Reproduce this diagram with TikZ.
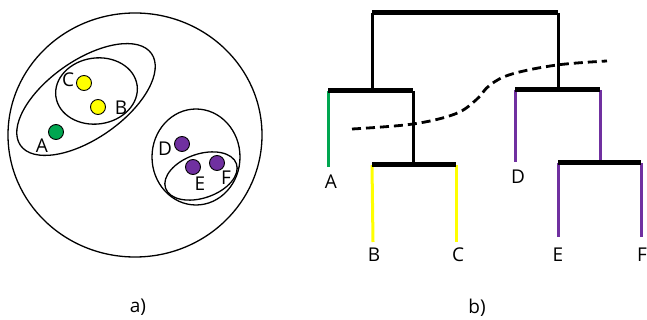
\documentclass[tikz,border=0pt]{standalone}
\usepackage{fontspec}
\setmainfont{Open Sans}
\begin{document}
\begin{tikzpicture}[x=1pt,y=-1pt,
  lbl/.style={font=\fontsize{19}{22}\selectfont, inner sep=0pt},
  ring/.style={draw=black, line width=1.3pt},
  dot/.style={circle, draw=black, line width=0.9pt, minimum size=15pt, inner sep=0pt},
  bar/.style={line width=5pt},
  stem/.style={line width=3pt}]
\useasboundingbox (0,0) rectangle (647,320);
\definecolor{dgreen}{RGB}{0,166,80}
\definecolor{dyellow}{RGB}{255,255,0}
\definecolor{dpurple}{RGB}{112,48,160}
% ---------- panel a ----------
\draw[ring] (135,135) ellipse [x radius=127pt, y radius=122pt];
\draw[ring, rotate around={35:(86,99.5)}] (86,99.5) ellipse [x radius=80pt, y radius=39pt];
\draw[ring, rotate around={8:(96.5,91)}] (96.5,91) ellipse [x radius=41pt, y radius=33pt];
\draw[ring] (196,157) ellipse [x radius=44pt, y radius=48pt];
\draw[ring, rotate around={19:(201,176)}] (201,176) ellipse [x radius=37.5pt, y radius=22pt];
\node[dot, fill=dyellow] (dC) at (84,83) {};
\node[dot, fill=dyellow] (dB) at (98,107) {};
\node[dot, fill=dgreen] (dA) at (56,132) {};
\node[dot, fill=dpurple] (dD) at (182,144) {};
\node[dot, fill=dpurple] (dE) at (193,167) {};
\node[dot, fill=dpurple] (dF) at (217,163) {};
\node[lbl] (lC) at (68,80) {C};
\node[lbl] (lB) at (121,108) {B};
\node[lbl] (lA) at (42,146) {A};
\node[lbl] (lD) at (165,149) {D};
\node[lbl] (lE) at (200,184) {E};
\node[lbl] (lF) at (226,178) {F};
\node[lbl] (la) at (138,307) {a)};
% ---------- panel b ----------
\coordinate (t1) at (372,13);  \coordinate (t2) at (558,13);
\coordinate (l1) at (328,91);  \coordinate (l2) at (413,91);
\coordinate (lm) at (372,91);
\coordinate (bc1) at (372,165); \coordinate (bc2) at (456,165);
\coordinate (bcm) at (413,165);
\coordinate (r1) at (515,90);  \coordinate (r2) at (600,90);
\coordinate (rm) at (558,90);
\coordinate (ef1) at (558,163); \coordinate (ef2) at (641,163);
\coordinate (efm) at (600,163);
\node[lbl] (nA) at (331,182) {A};
\node[lbl] (nB) at (374,255) {B};
\node[lbl] (nC) at (458,255) {C};
\node[lbl] (nD) at (518,177) {D};
\node[lbl] (nE) at (558,255) {E};
\node[lbl] (nF) at (642,255) {F};
\node[lbl] (lb) at (477,308) {b)};
\coordinate (eA) at (328,167);
\coordinate (eB) at (373,242);
\coordinate (eC) at (456,242);
\coordinate (eD) at (515,162);
\coordinate (eE) at (558,237);
\coordinate (eF) at (641,237);
% stems
\draw[stem] (t1) -- (lm);
\draw[stem] (t2) -- (rm);
\draw[stem] (l2) -- (bcm);
\draw[stem, dgreen] (l1) -- (eA);
\draw[stem, dyellow] (bc1) -- (eB);
\draw[stem, dyellow] (bc2) -- (eC);
\draw[stem, dpurple] (r1) -- (eD);
\draw[stem, dpurple] (r2) -- (efm);
\draw[stem, dpurple] (ef1) -- (eE);
\draw[stem, dpurple] (ef2) -- (eF);
% bars
\draw[bar] (t1) -- (t2);
\draw[bar] (l1) -- (l2);
\draw[bar] (bc1) -- (bc2);
\draw[bar] (r1) -- (r2);
\draw[bar] (ef1) -- (ef2);
% dashed cut
\draw[line width=2.8pt, dash pattern=on 9pt off 5pt]
  plot[smooth, tension=0.6] coordinates {(352,129) (413,124) (455,114) (476,100) (490,85) (512,74) (557,65) (607,61)};
\end{tikzpicture}
\end{document}
